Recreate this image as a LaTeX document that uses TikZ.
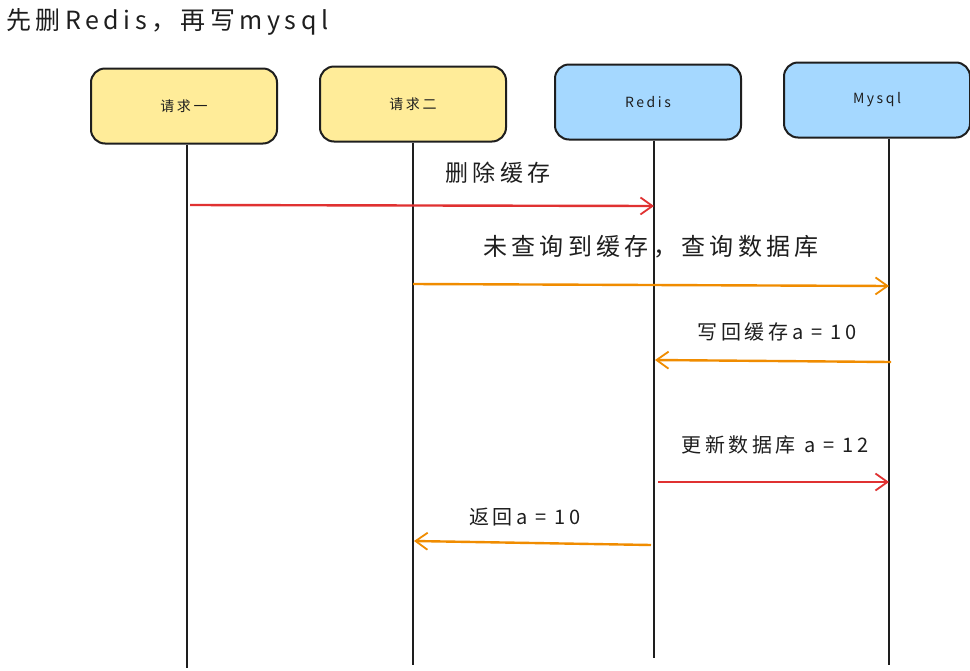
\documentclass[tikz,border=0pt]{standalone}
\usepackage{fontspec}
\setmainfont{Noto Sans CJK SC}
\newfontfamily\cjk[LetterSpace=18]{Noto Sans CJK SC}
\usetikzlibrary{arrows.meta}
\definecolor{ink}{HTML}{1E1E1E}
\definecolor{redc}{HTML}{E03131}
\definecolor{orangec}{HTML}{F08C00}
\definecolor{yellowc}{HTML}{FFEC99}
\definecolor{bluec}{HTML}{A5D8FF}
\tikzset{
  box/.style={draw=ink, line width=2pt, rounded corners=14pt, minimum width=186pt, minimum height=75pt, inner sep=0pt, font=\cjk\fontsize{14}{16}\selectfont, text=ink},
  life/.style={draw=ink, line width=2.2pt},
  msg/.style={line width=2.4pt, -{Straight Barb[length=12pt,width=17pt,line width=1.8pt]}},
  lbl/.style={text=ink, inner sep=0pt, anchor=center}
}
\begin{document}
\begin{tikzpicture}[x=1pt,y=-1pt]
\useasboundingbox (0,0) rectangle (970,670);
\fill[white] (0,0) rectangle (970,670);

\node[lbl, anchor=west, font=\cjk\fontsize{25}{28}\selectfont] (title) at (6,22) {先删Redis，再写mysql};

\node[box, fill=yellowc] (r1) at (184,106) {请求一};
\node[box, fill=yellowc] (r2) at (413,104) {请求二};
\node[box, fill=bluec] (rd) at (648,102) {Redis};
\node[box, fill=bluec] (my) at (877,100) {Mysql};

\coordinate (r1b) at (187,668);
\coordinate (r2b) at (413,665);
\coordinate (rdb) at (654,658);
\coordinate (myb) at (889,665);
\draw[life] (r1.south -| r1b) -- (r1b);
\draw[life] (r2.south -| r2b) -- (r2b);
\draw[life] (rd.south -| rdb) -- (rdb);
\draw[life] (my.south -| myb) -- (myb);

% message 1
\coordinate (m1a) at (190,205);
\coordinate (m1b) at (654,206);
\draw[msg, redc] (m1a) -- (m1b);
\node[lbl, font=\cjk\fontsize{23}{26}\selectfont] (l1) at (498,173) {删除缓存};

% message 2
\coordinate (m2a) at (413,284);
\coordinate (m2b) at (889,286);
\draw[msg, orangec] (m2a) -- (m2b);
\node[lbl, font=\cjk\fontsize{24}{27}\selectfont] (l2) at (651,247) {未查询到缓存，查询数据库};

% message 3
\coordinate (m3a) at (891,362);
\coordinate (m3b) at (655,360);
\draw[msg, orangec] (m3a) -- (m3b);
\node[lbl, font=\cjk\fontsize{20}{23}\selectfont] (l3) at (777,332) {写回缓存a = 10};

% message 4
\coordinate (m4a) at (658,482);
\coordinate (m4b) at (889,482);
\draw[msg, redc] (m4a) -- (m4b);
\node[lbl, font=\cjk\fontsize{20}{23}\selectfont] (l4) at (775,445) {更新数据库 a = 12};

% message 5
\coordinate (m5a) at (651,545);
\coordinate (m5b) at (414,541);
\draw[msg, orangec] (m5a) -- (m5b);
\node[lbl, font=\cjk\fontsize{20}{23}\selectfont] (l5) at (525,517) {返回a = 10};
\end{tikzpicture}
\end{document}
